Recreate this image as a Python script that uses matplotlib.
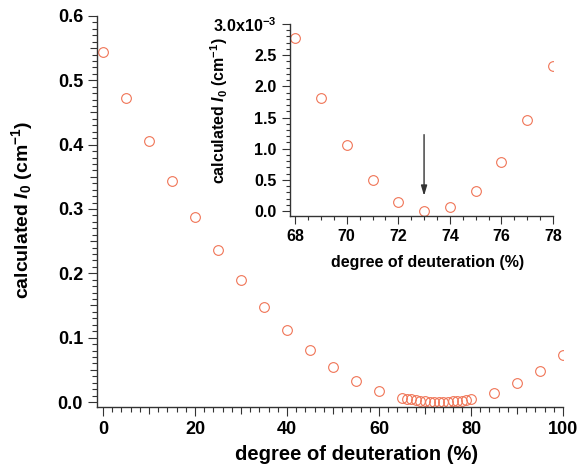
import matplotlib
matplotlib.use("Agg")
import matplotlib.pyplot as plt
from matplotlib.ticker import MultipleLocator, FixedLocator, FixedFormatter

plt.rcParams['font.family'] = ['Liberation Sans', 'DejaVu Sans']
plt.rcParams['font.weight'] = 'bold'
plt.rcParams['mathtext.fontset'] = 'custom'
plt.rcParams['mathtext.rm'] = 'Liberation Sans:bold'
plt.rcParams['mathtext.it'] = 'Liberation Sans:bold:italic'
plt.rcParams['mathtext.bf'] = 'Liberation Sans:bold'

# main panel: calculated I0 vs degree of deuteration
deut = [0, 5, 10, 15, 20, 25, 30, 35, 40, 45, 50, 55, 60,
        65, 66, 67, 68, 69, 70, 71, 72, 73, 74, 75, 76, 77, 78, 79, 80,
        85, 90, 95, 100]
i0 = [0.544, 0.472, 0.406, 0.344, 0.288, 0.236, 0.190, 0.148, 0.112, 0.081, 0.054, 0.033, 0.017,
      0.0067, 0.0052, 0.0040, 0.0028, 0.0018, 0.0011, 0.0005, 0.00015, 0.0, 0.00006, 0.0003,
      0.0008, 0.0015, 0.0023, 0.0035, 0.0047,
      0.0145, 0.029, 0.048, 0.073]

# inset: zoom around the match point (values in units of 1e-3)
deut_zoom = [68, 69, 70, 71, 72, 73, 74, 75, 76, 77, 78]
i0_zoom_e3 = [2.78, 1.82, 1.06, 0.50, 0.15, 0.0, 0.06, 0.32, 0.78, 1.455, 2.33]
inset_ytick_vals = [0.0, 0.5, 1.0, 1.5, 2.0, 2.5, 3.0]
inset_ytick_labels = ['0.0', '0.5', '1.0', '1.5', '2.0', '2.5', '3.0x10$^{-3}$']

mcolor = '#f07456'
axcolor = '#333333'


def style_axes(ax, major_len, minor_len):
    for s in ['top', 'right']:
        ax.spines[s].set_visible(False)
    for s in ['left', 'bottom']:
        ax.spines[s].set_color(axcolor)
        ax.spines[s].set_linewidth(1.0)
    ax.tick_params(which='both', direction='out', color=axcolor, width=0.8)
    ax.tick_params(which='major', length=major_len)
    ax.tick_params(which='minor', length=minor_len)
    ax.set_facecolor('none')


def shorten_half_ticks(axis, step, length):
    # Igor-style: labelled ticks long, in-between "medium" ticks shorter
    locs = axis.get_majorticklocs()
    for t, v in zip(axis.get_major_ticks(len(locs)), locs):
        if abs(round(v / step) * step - v) > step * 1e-3:
            t.tick1line.set_markersize(length)


fig = plt.figure(figsize=(5.8, 4.7), dpi=100)

ax = fig.add_axes([0.1672, 0.134, 0.8035, 0.832])
ax.plot(deut, i0, 'o', mfc='none', mec=mcolor, ms=7, mew=0.8)
ax.set_xlim(-1.3, 100)
ax.set_ylim(-0.0078, 0.6)
ax.xaxis.set_major_locator(MultipleLocator(10))
ax.xaxis.set_minor_locator(MultipleLocator(2))
ax.yaxis.set_major_locator(MultipleLocator(0.05))
ax.yaxis.set_minor_locator(MultipleLocator(0.01))
ax.xaxis.set_major_formatter(plt.FuncFormatter(
    lambda v, p: f'{v:.0f}' if round(v) % 20 == 0 else ''))
ax.yaxis.set_major_formatter(plt.FuncFormatter(
    lambda v, p: f'{v:.1f}' if round(v * 100) % 10 == 0 else ''))
style_axes(ax, 6.5, 3.5)
ax.tick_params(which='major', labelsize=13)
shorten_half_ticks(ax.xaxis, 20, 5)
shorten_half_ticks(ax.yaxis, 0.1, 5)
ax.set_xlabel('degree of deuteration (%)', fontsize=14.5, fontweight='bold')
ax.set_ylabel('calculated $\\mathit{I}_{0}$ (cm$^{-1}$)', fontsize=14, fontweight='bold')
ax.xaxis.set_label_coords(0.558, -0.097)
ax.yaxis.set_label_coords(-0.133, 0.504)

ins = fig.add_axes([0.5, 0.5404, 0.4534, 0.4085])
ins.plot(deut_zoom, i0_zoom_e3, 'o', mfc='none', mec=mcolor, ms=7, mew=0.8)
ins.set_xlim(67.8, 78)
ins.set_ylim(-0.08, 3.0)
ins.xaxis.set_major_locator(MultipleLocator(2))
ins.xaxis.set_minor_locator(MultipleLocator(0.5))
ins.yaxis.set_major_locator(FixedLocator(inset_ytick_vals))
ins.yaxis.set_major_formatter(FixedFormatter(inset_ytick_labels))
ins.yaxis.set_minor_locator(MultipleLocator(0.1))
style_axes(ins, 6, 3)
ins.tick_params(which='major', labelsize=11.5)
ins.set_xlabel('degree of deuteration (%)', fontsize=11.5, fontweight='bold')
ins.set_ylabel('calculated $\\mathit{I}_{0}$ (cm$^{-1}$)', fontsize=11.5, fontweight='bold')
ins.xaxis.set_label_coords(0.523, -0.205)
ins.yaxis.set_label_coords(-0.228, 0.547)

ins.annotate('', xy=(73, 0.2), xytext=(73, 1.27),
             arrowprops=dict(arrowstyle='-|>,head_width=0.18,head_length=0.6',
                             color=axcolor, lw=1.0))

fig.savefig('out.png', dpi=100)
